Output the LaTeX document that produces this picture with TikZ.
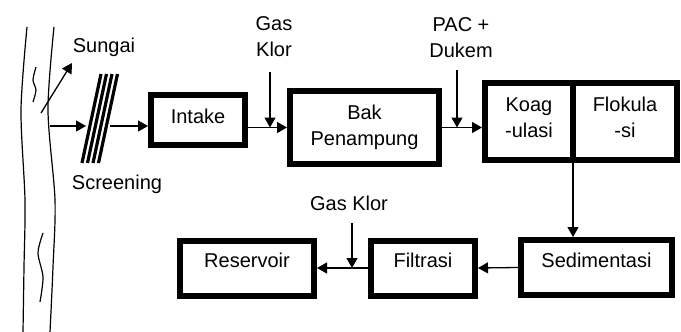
\documentclass[tikz,border=0pt]{standalone}
\usepackage{fontspec}
\setmainfont{Liberation Sans}
\usetikzlibrary{arrows.meta,calc}

\begin{document}
\begin{tikzpicture}[
  x=0.5pt, y=-0.5pt,
  font=\fontsize{10pt}{13pt}\selectfont,
  every node/.style = {text height=7.2pt, text depth=0pt, inner sep=0pt},
  twoline/.style = {text height=20.2pt},
  box/.style    = {draw=black, line width=3pt, fill=white, align=center,
                   text depth=4pt},
  lowbox/.style = {box, minimum height=27.5pt, text depth=7.5pt},
  lbl/.style    = {align=center},
  flow/.style   = {-{Triangle[length=5pt, width=5.5pt]}, draw=black, line width=0.65pt},
  bank/.style   = {draw=black, line width=0.6pt},
  screen/.style = {draw=black, line width=1.6pt},
]
\useasboundingbox (0,0) rectangle (681,332);

%% river banks and ripples
\draw[bank] plot[smooth] coordinates {(27,27) (21,110) (25,200) (24,267) (23,332)};
\draw[bank] plot[smooth] coordinates {(54,27) (48,110) (55,200) (53,267) (50,332)};
\draw[bank] plot[smooth] coordinates {(36,67) (33,80) (36,90) (33,102)};
\draw[bank] plot[smooth] coordinates {(43,233) (38,253) (43,277) (40,302)};

%% screening bars
\foreach \i in {0,...,3}
  \draw[screen] ({82+5.5*\i},163) -- ({101+5.5*\i},74);

%% labels
\node[lbl] (sungai) at (104,45) {Sungai};
\node[lbl] (scrlbl) at (117,182) {Screening};
\node[lbl, twoline] (klorA) at (274,36.5) {Gas\\ Klor};
\node[lbl, twoline] (pac)   at (461,37) {PAC +\\ Dukem};
\node[lbl] (klorB)  at (349,203.5) {Gas Klor};

%% top row
\node[box, minimum width=47pt, minimum height=25pt] (intake) at (198,120) {Intake};
\node[box, twoline, minimum width=74.5pt, minimum height=36.5pt, text depth=2pt] (bak) at (364.5,127.5) {Bak\\ Penampung};
\node[box, twoline, minimum width=44pt, minimum height=38.5pt] (koag) at (529,121.5) {Koag\\ -ulasi};
\node[box, twoline, minimum width=52pt, minimum height=38.5pt] (flok) at (625,121.5) {Flokula\\ -si};

%% bottom row
\node[lowbox, minimum width=75.5pt] (sed)  at (596.5,267.5) {Sedimentasi};
\node[lowbox, minimum width=52pt]   (filt) at (423,268) {Filtrasi};
\node[lowbox, minimum width=67pt]   (res)  at (247,268) {Reservoir};

%% free ends
\coordinate (sgFoot) at (41,113);
\coordinate (sgTip)  at (72,63);
\coordinate (riv)    at (50,126);
\coordinate (scrIn)  at (86,126);
\coordinate (scrOut) at (110,126);
\coordinate (dosA)   at (270,72);
\coordinate (dosP)   at (457,70);
\coordinate (dosB)   at (352,223);
\coordinate (kf)     at ($(koag.south east)!.5!(flok.south west)$);

%% edges
\draw[flow] (sgFoot) -- (sgTip);
\draw[flow] (riv) -- (scrIn);
\draw[flow] (scrOut) -- (scrOut -| intake.west);
\draw[flow] (intake.east |- bak.west) -- (bak.west);
\draw[flow] (dosA) -- (dosA |- bak.west);
\draw[flow] (bak.east) -- (bak.east -| koag.west);
\draw[flow] (dosP) -- (dosP |- bak.east);
\draw[flow] (kf) -- (kf |- sed.north);
\draw[flow] (sed.west) -- (filt.east);
\draw[flow] (filt.west) -- (res.east);
\draw[flow] (dosB) -- (dosB |- res.east);

\end{tikzpicture}
\end{document}
